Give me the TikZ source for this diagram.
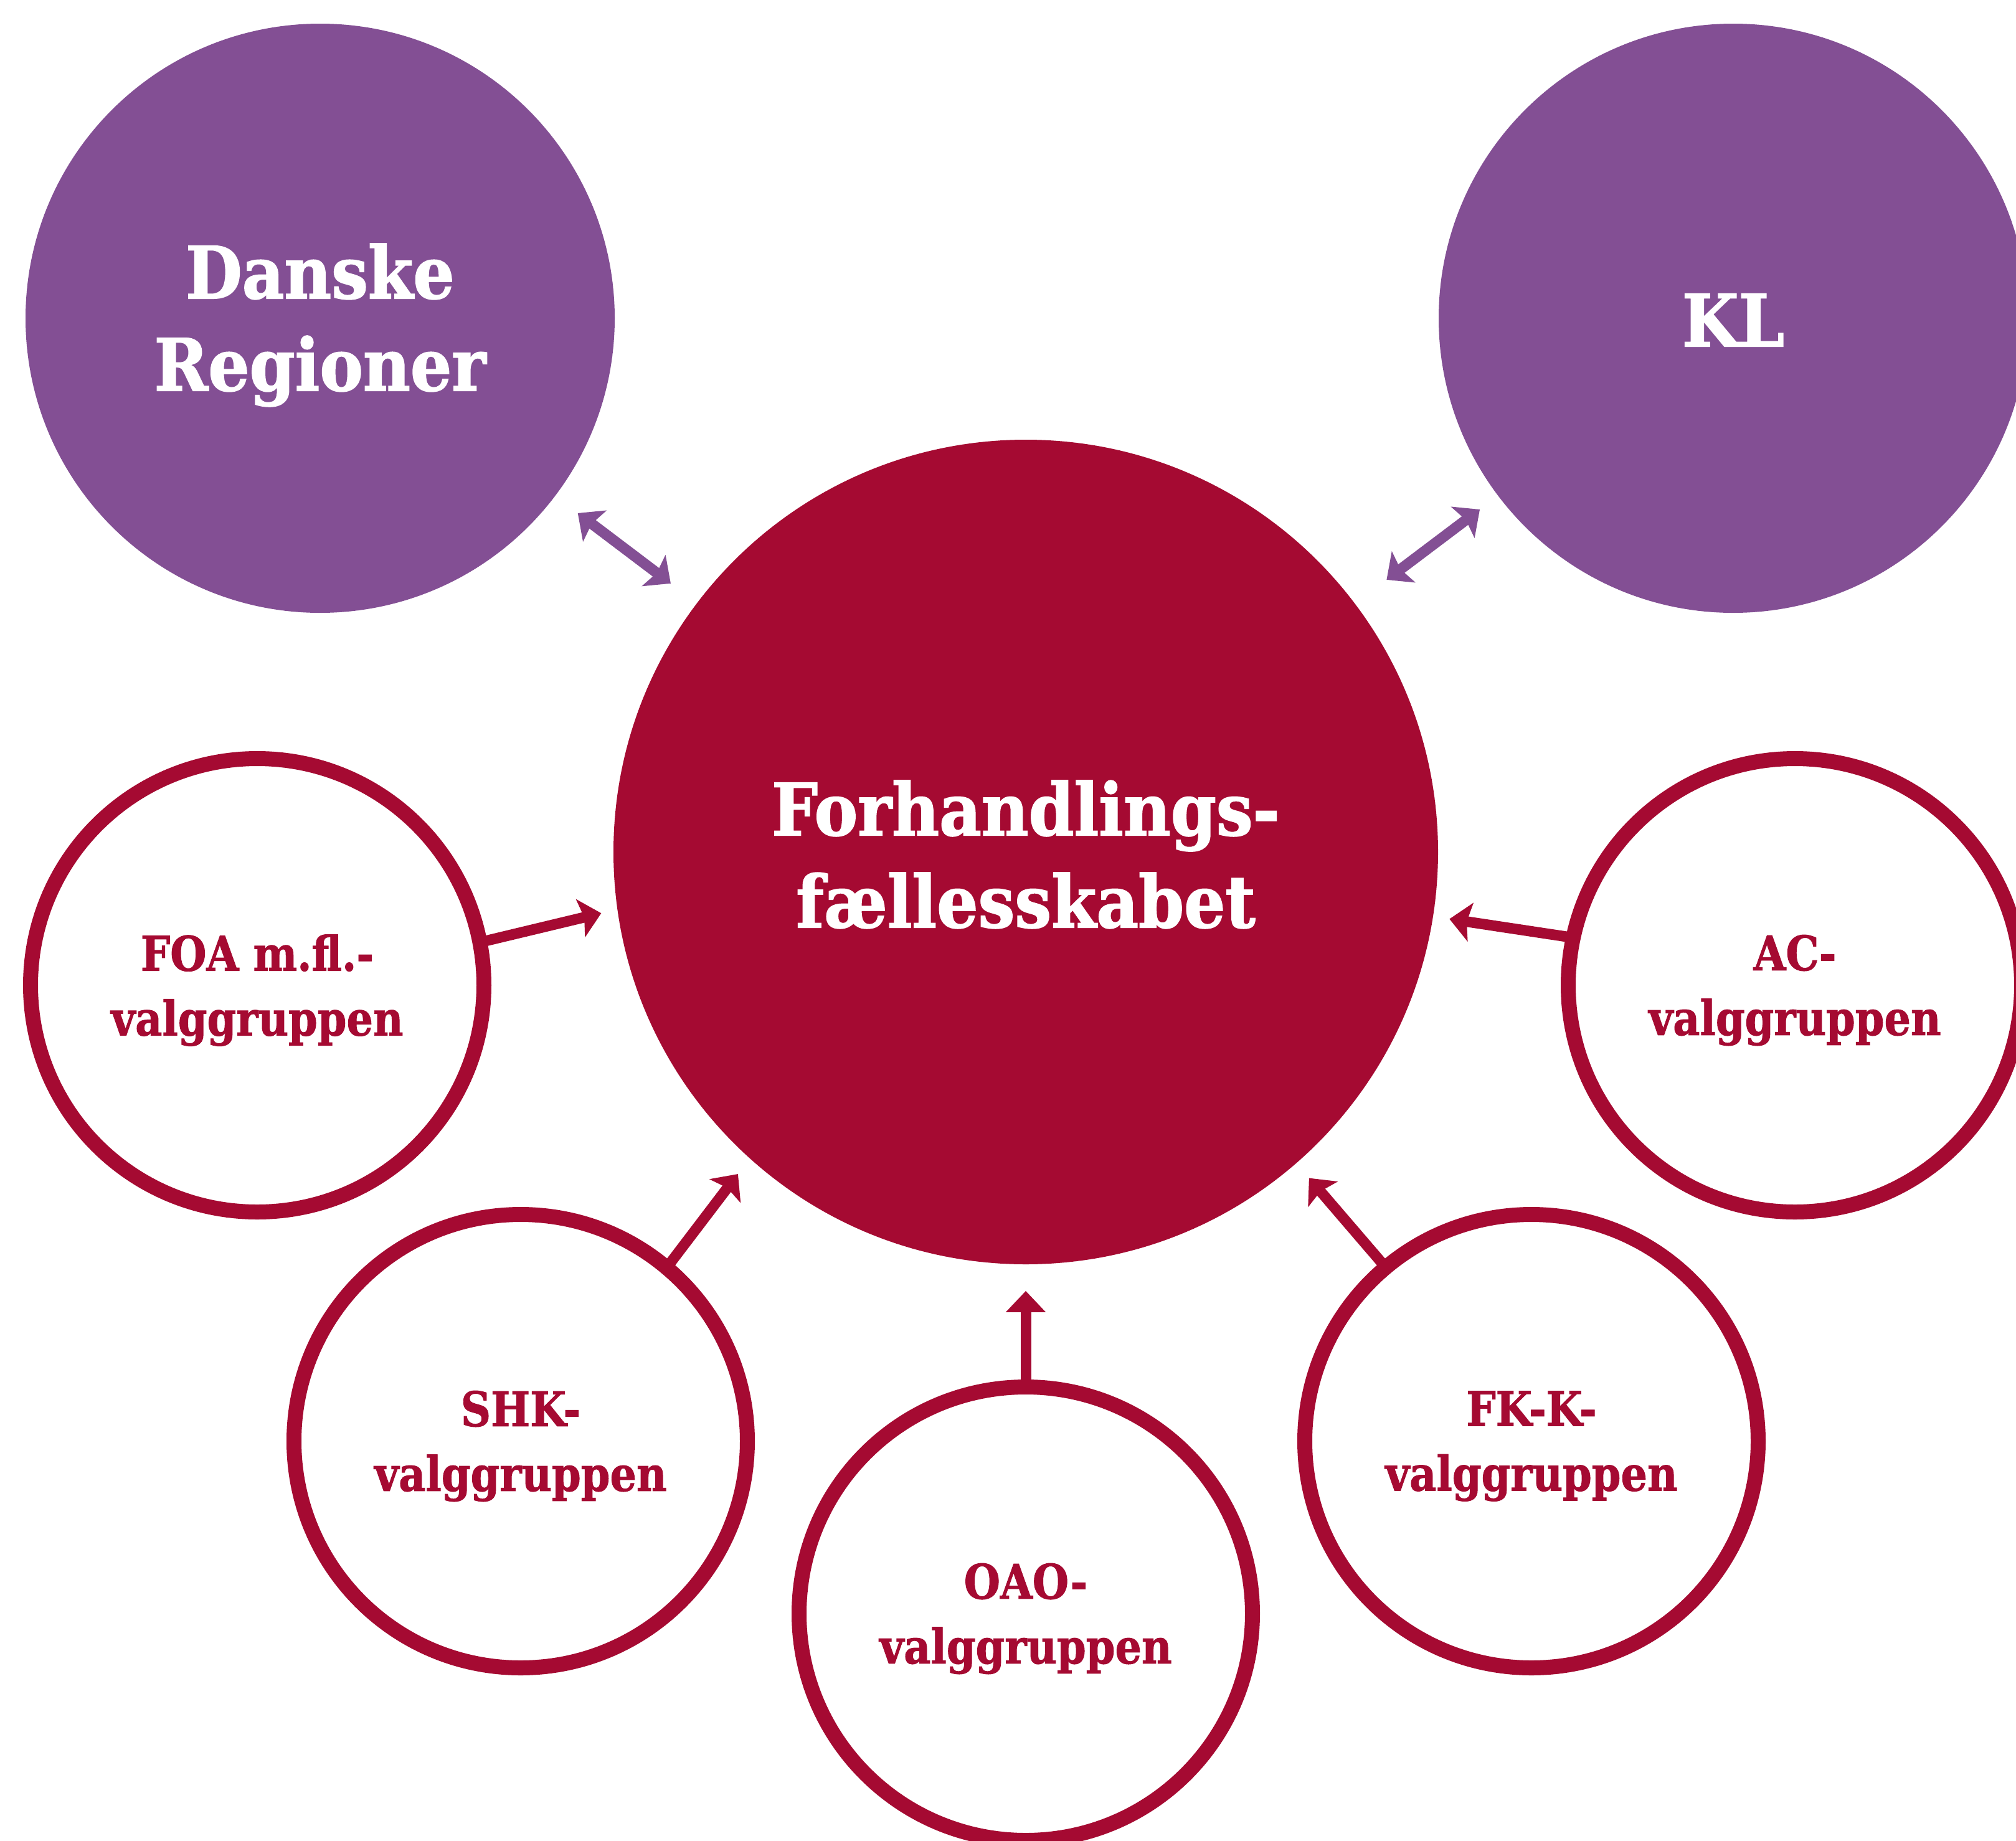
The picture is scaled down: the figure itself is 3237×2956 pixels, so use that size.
\documentclass[tikz,border=0pt]{standalone}
\usepackage{fontspec}
\newfontfamily\bigfam{DejaVu Serif}[FakeStretch=0.9, BoldFeatures={FakeBold=1.5}]
\newfontfamily\smallfam{DejaVu Serif}[FakeStretch=0.87, BoldFeatures={FakeBold=1.2}]
\usetikzlibrary{arrows.meta}
\definecolor{crim}{RGB}{165,10,50}
\definecolor{purp}{RGB}{131,79,148}
\newcommand\bigtxt{\bigfam\bfseries\fontsize{29}{37}\selectfont}
\newcommand\smalltxt{\smallfam\bfseries\fontsize{19.2}{26}\selectfont}
\begin{document}
\begin{tikzpicture}[x=0.25pt,y=-0.25pt,
  pc/.style={circle, fill=purp, minimum size=236.5pt, inner sep=0pt},
  cc/.style={circle, fill=crim, minimum size=331pt, inner sep=0pt},
  ring/.style={circle, draw=crim, fill=white, line width=6pt, minimum size=182pt, inner sep=0pt},
  bigl/.style={text=white, font=\bigtxt, align=center},
  smalll/.style={text=crim, font=\smalltxt, align=center},
  darr/.style={{Stealth[length=8.5pt,width=15.5pt,inset=1.5pt]}-{Stealth[length=8.5pt,width=15.5pt,inset=1.5pt]}, draw=purp, line width=4.25pt},
  arr/.style={-{Stealth[length=8.5pt,width=15.5pt,inset=1.5pt]}, draw=crim, line width=4.25pt},
  arrflat/.style={-{Stealth[length=8.5pt,width=15.5pt,inset=0pt]}, draw=crim, line width=4.25pt}
]
\useasboundingbox (0,0) rectangle (3237,2956);
\clip (0,0) rectangle (3237,2956);
\fill[white] (0,0) rectangle (3237,2956);

\node[pc] (dr) at (514,511) {};
\node[pc] (kl) at (2783,511) {};
\node[cc] (fc) at (1647,1368) {};
\node[ring] (foa) at (413,1582) {};
\node[ring] (ac) at (2882,1582) {};
\node[ring] (shk) at (836,2314) {};
\node[ring] (fkk) at (2459,2314) {};
\node[ring] (oao) at (1647,2591) {};

\node[bigl] (drt) at (514,522) {Danske\\Regioner};
\node[bigl] (klt) at (2783,514) {KL};
\node[bigl] (fct) at (1647,1372) {Forhandlings-\\fællesskabet};
\node[smalll] (foat) at (413,1590) {FOA m.fl.-\\valggruppen};
\node[smalll] (act) at (2882,1590) {AC-\\valggruppen};
\node[smalll] (shkt) at (836,2322) {SHK-\\valggruppen};
\node[smalll] (fkkt) at (2459,2322) {FK-K-\\valggruppen};
\node[smalll] (oaot) at (1647,2599) {OAO-\\valggruppen};

\draw[darr, shorten <=11.25pt, shorten >=13pt] (dr) -- (fc);
\draw[darr, shorten <=9pt, shorten >=15.75pt] (kl) -- (fc);
\draw[arr, shorten <=-3pt, shorten >=6.5pt] (foa.11.4) -- (fc.188.7);
\draw[arr, shorten <=-3pt, shorten >=6.5pt] (ac.168.7) -- (fc.351.3);
\draw[arr, shorten <=-3pt, shorten >=7.7pt] (shk.50) -- (fc.228.5);
\draw[arr, shorten <=-3pt, shorten >=7.7pt] (fkk.130) -- (fc.311.5);
\draw[arrflat, shorten <=-3pt, shorten >=10.5pt] (oao) -- (fc);
\end{tikzpicture}
\end{document}
